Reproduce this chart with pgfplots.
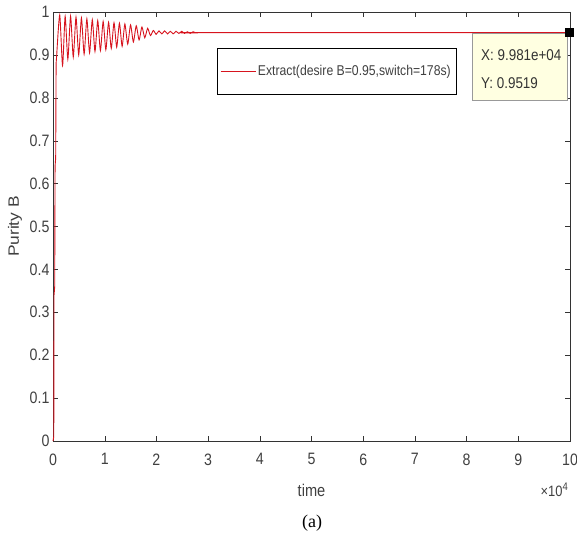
\documentclass[border=0pt]{standalone}
\usepackage{fontspec}
\setmainfont{Liberation Sans}[FakeStretch=0.86]
\newfontfamily\ylabfont{Liberation Sans}[FakeStretch=1.16]
\newfontfamily\capfont{Liberation Serif}
\usepackage{pgfplots}
\pgfplotsset{compat=1.18}
\definecolor{tipfill}{RGB}{255,255,225}
\definecolor{mred}{RGB}{215,20,30}
\begin{document}
\begin{tikzpicture}
\begin{axis}[
  at={(0pt,0pt)}, anchor=south west,
  scale only axis, width=517pt, height=429pt,
  xmin=0, xmax=100000, ymin=0, ymax=1,
  xtick={0,10000,...,100000},
  xticklabels={0,1,2,3,4,5,6,7,8,9,10},
  scaled x ticks=false,
  ytick={0,0.1,...,1.0},
  yticklabel style={/pgf/number format/fixed,/pgf/number format/precision=1},
  xticklabel style={yshift=-9pt},
  /pgf/number format/assume math mode=true,
  tick label style={font=\fontsize{16.5}{18}\selectfont, text=black!75},
  tick align=inside, major tick length=5pt,
  axis line style={black!80}, every tick/.style={black!80},
  xlabel={time}, ylabel={Purity B},
  xlabel style={at={([yshift=-49pt]rel axis cs:0.5,0)}, anchor=center,
    font=\fontsize{17}{19}\selectfont, text=black!75},
  ylabel style={at={([xshift=-38pt]rel axis cs:0,0.5)}, anchor=center,
    font=\ylabfont\fontsize{15}{17}\selectfont, text=black!75},
  clip=false,
  legend style={at={(rel axis cs:0.317,0.916)}, anchor=north west, draw=black, fill=white,
    font=\fontsize{14.2}{16}\selectfont, text=black!75, inner xsep=3pt, inner ysep=15pt,
    row sep=0pt},
  legend image code/.code={\draw[#1] (0pt,0pt) -- (35pt,0pt);},
]
\addplot[mred, line width=0.9pt, forget plot] coordinates {
(0,0) (150,0.01) (200,0.34) (330,0.36) (400,0.64) (520,0.66) (600,0.88) (720,0.90)
};
\addplot[mred, line width=0.9pt, smooth, tension=0.4] coordinates {
(720,0.90) (1300,0.993)
(1850,0.875) (2350,0.990) (2870,0.890) (3400,0.990) (3920,0.895) (4450,0.988)
(4970,0.900) (5500,0.986) (6020,0.902) (6550,0.984) (7070,0.905) (7600,0.982)
(8120,0.908) (8650,0.980) (9170,0.910) (9700,0.978) (10220,0.912) (10750,0.976)
(11270,0.915) (11800,0.975) (12320,0.918) (12850,0.974) (13370,0.920) (13900,0.972)
(14450,0.925) (15000,0.970) (15550,0.930) (16100,0.968) (16650,0.935) (17200,0.965)
(17750,0.940) (18300,0.962) (18850,0.945) (19400,0.957) (19950,0.948) (20500,0.956)
(21050,0.949) (21600,0.956) (22150,0.949) (22700,0.955) (23250,0.949) (23800,0.955)
(24350,0.950) (24900,0.955) (25450,0.950) (26000,0.954) (26550,0.950) (27100,0.954)
(27650,0.951) (28300,0.952) (100000,0.952)
};
\addlegendentry{Extract(desire B=0.95,switch=178s)}
\addplot[only marks, mark=square*, mark size=4pt, black, forget plot] coordinates {(99810,0.9519)};
\draw[black!40, fill=tipfill] (rel axis cs:0.8104,0.951) rectangle (rel axis cs:0.9942,0.7949);
\node[anchor=base west, inner sep=0pt, font=\fontsize{15.6}{17}\selectfont, text=black!80]
  at (rel axis cs:0.8279,0.8858) {X: 9.981e+04};
\node[anchor=base west, inner sep=0pt, font=\fontsize{15.6}{17}\selectfont, text=black!80]
  at (rel axis cs:0.8279,0.8228) {Y: 0.9519};
\node[anchor=east, font=\fontsize{15}{17}\selectfont, text=black!75, inner sep=0pt]
  at ([yshift=-49pt]rel axis cs:0.9961,0) {×10\raisebox{6pt}{\fontsize{11}{12}\selectfont 4}};
\end{axis}
\node[font=\capfont\fontsize{18}{20}\selectfont] at (259pt,-82pt) {(a)};
\pgfresetboundingbox
\path[use as bounding box] (-53pt,-95pt) rectangle (524pt,441pt);
\end{tikzpicture}
\end{document}
